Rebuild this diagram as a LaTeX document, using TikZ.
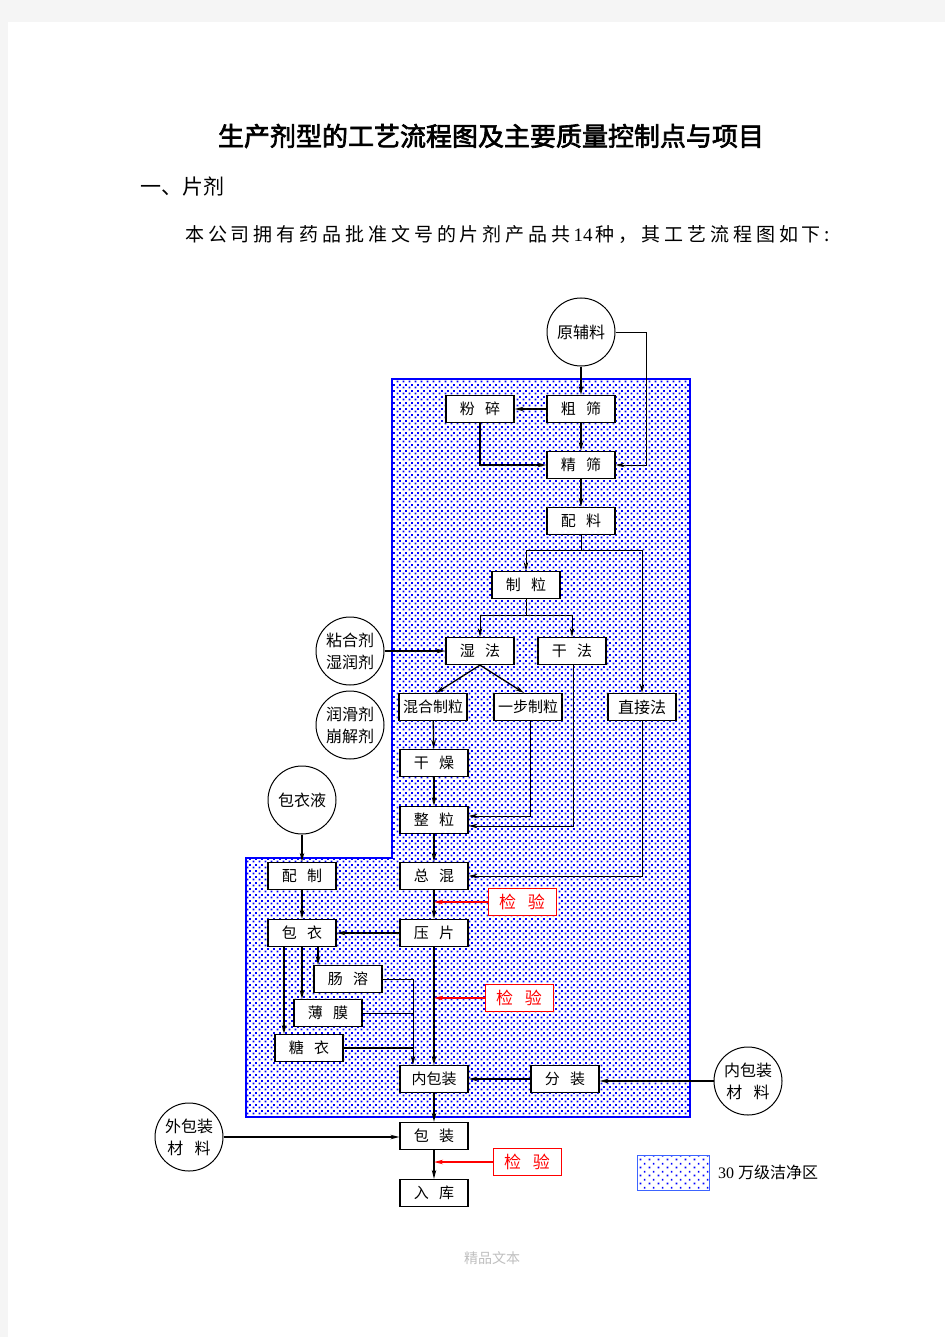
\documentclass[tikz,border=0pt]{standalone}
\usepackage{fontspec}
\setmainfont{Liberation Serif}
\newfontfamily\cjk{Noto Sans CJK SC}
\newfontfamily\cjkb[FakeBold=2.5]{Noto Sans CJK SC}
\newfontfamily\cjksp[LetterSpace=20.5]{Noto Sans CJK SC}
\usetikzlibrary{arrows.meta,patterns.meta,calc}
\newcommand\gp{\hspace{0.7em}}
\tikzdeclarepattern{name=bluedots, type=uncolored,
  bounding box={(0pt,0pt) and (6pt,6pt)}, tile size={(6pt,6pt)},
  code={\fill (0.6pt,0.6pt) rectangle (2.8pt,2.8pt);
        \fill (3.6pt,3.6pt) rectangle (5.8pt,5.8pt);}}
\tikzdeclarepattern{name=sparsedots, type=uncolored,
  bounding box={(0pt,0pt) and (9pt,8pt)}, tile size={(9pt,8pt)},
  code={\fill (0.8pt,0.8pt) rectangle (2.6pt,2.6pt);
        \fill (5.3pt,4.8pt) rectangle (7.1pt,6.6pt);}}
\tikzset{
  box/.style={draw, line width=1.2pt, fill=white, minimum width=68pt, minimum height=27pt,
    inner sep=0pt, font=\cjk\fontsize{15}{15}\selectfont},
  rbox/.style={box, draw=red, text=red, line width=0.9pt, font=\cjk\fontsize{17}{17}\selectfont},
  circ/.style={draw, circle, line width=1pt, fill=white, minimum size=68pt, inner sep=0pt,
    align=center, font=\cjk\fontsize{16}{22}\selectfont},
  arr/.style={-{Stealth[length=9pt,width=4.5pt]}, line width=1.3pt},
  tarr/.style={-{Stealth[length=9pt,width=4.5pt]}, line width=0.8pt},
  ln/.style={line width=0.8pt},
  redarr/.style={-{Stealth[length=9pt,width=4.5pt]}, line width=1.3pt, red},
}
\begin{document}
\begin{tikzpicture}[x=1pt,y=-1pt]
\useasboundingbox (0,0) rectangle (945,1337);
\fill[black!4] (0,0) rectangle (945,1337);
\fill[white] (8,22) rectangle (945,1337);

% texts
\node[font=\cjkb\fontsize{26}{26}\selectfont] (title) at (491,136) {生产剂型的工艺流程图及主要质量控制点与项目};
\node[anchor=west, inner sep=0pt, font=\cjk\fontsize{21}{21}\selectfont] (sec) at (140,187) {一、片剂};
\node[anchor=west, inner sep=0pt, font=\fontsize{19}{19}\selectfont] (intro) at (185,234)
  {{\cjksp 本公司拥有药品批准文号的片剂产品共}\,14\,{\cjksp 种，其工艺流程图如下:}};
\node[text=black!25, font=\cjk\fontsize{14}{14}\selectfont] (foot) at (492,1258) {精品文本};

% clean area
\fill[white] (392,379) -- (690,379) -- (690,1117) -- (246,1117) -- (246,858) -- (392,858) -- cycle;
\fill[pattern=bluedots, pattern color=blue] (392,379) -- (690,379) -- (690,1117) -- (246,1117) -- (246,858) -- (392,858) -- cycle;
\draw[blue, line width=1.3pt] (392,379) -- (690,379) -- (690,1117) -- (246,1117) -- (246,858) -- (392,858) -- cycle;

% legend
\fill[pattern=sparsedots, pattern color=blue] (637,1155) rectangle (709,1190);
\draw[draw={rgb,255:red,60;green,100;blue,255}, line width=1pt] (637,1155) rectangle (709,1190);
\node[anchor=west, inner sep=0pt, font=\fontsize{16}{16}\selectfont] (leg) at (718,1172) {30 {\cjk 万级洁净区}};

% nodes
\node[circ] (yfl) at (581,332) {原辅料};
\node[box] (fs) at (480,409) {粉\gp 碎};
\node[box] (cs) at (581,409) {粗\gp 筛};
\node[box] (js) at (581,465) {精\gp 筛};
\node[box] (pl) at (581,521) {配\gp 料};
\node[box] (zl) at (526,585) {制\gp 粒};
\node[box] (sf) at (480,651) {湿\gp 法};
\node[box] (gf) at (572,651) {干\gp 法};
\node[circ] (nh) at (350,651) {粘合剂\\湿润剂};
\node[circ] (rh) at (350,725) {润滑剂\\崩解剂};
\node[box] (hh) at (433,707) {混合制粒};
\node[box] (ybz) at (528,707) {一步制粒};
\node[box, font=\cjk\fontsize{16}{16}\selectfont] (zjf) at (642,707) {直接法};
\node[box] (gz) at (434,763) {干\gp 燥};
\node[box] (zhl) at (434,820) {整\gp 粒};
\node[box] (zh) at (434,876) {总\gp 混};
\node[rbox] (jy1) at (522,902) {检\gp 验};
\node[box] (yp) at (434,933) {压\gp 片};
\node[circ] (byy) at (302,800) {包衣液};
\node[box] (pz) at (302,876) {配\gp 制};
\node[box] (by) at (302,933) {包\gp 衣};
\node[box] (cr) at (348,979) {肠\gp 溶};
\node[box] (bm) at (328,1013) {薄\gp 膜};
\node[box] (ty) at (309,1048) {糖\gp 衣};
\node[rbox] (jy2) at (519,998) {检\gp 验};
\node[box] (nbz) at (434,1079) {内包装};
\node[box] (fz) at (565,1079) {分\gp 装};
\node[circ] (nbc) at (748,1081) {内包装\\材\gp 料};
\node[box] (bz) at (434,1136) {包\gp 装};
\node[circ] (wbc) at (189,1137) {外包装\\材\gp 料};
\node[rbox] (jy3) at (527,1162) {检\gp 验};
\node[box] (rk) at (434,1193) {入\gp 库};

% connectors
\draw[arr] (yfl.south) -- (cs.north);
\draw[tarr] (yfl.east) -- ++(31,0) |- (js.east);
\draw[arr] (cs.west) -- (fs.east);
\draw[arr] (cs.south) -- (js.north);
\draw[arr] (fs.south) |- (js.west);
\draw[arr] (js) -- (pl);
\draw[ln] (pl.south) -- ++(0,15) coordinate (b1);
\draw[tarr] (b1) -| (zl.north);
\draw[tarr] (b1) -| (zjf.north);
\draw[ln] (zl.south) -- ++(0,16) coordinate (b2);
\draw[tarr] (b2) -| (sf.north);
\draw[tarr] (b2) -| (gf.north);
\draw[arr] (nh.east) -- (sf.west);
\draw[arr] (sf.south) -- ([xshift=3pt]hh.north);
\draw[arr] (sf.south) -- ([xshift=-4pt]ybz.north);
\draw[arr] (hh) -- (gz);
\draw[arr] (gz) -- (zhl);
\draw[arr] (zhl) -- (zh);
\draw[arr] (zh) -- (yp);
\draw[tarr] ([xshift=2pt]ybz.south) |- ([yshift=4pt]zhl.east);
\draw[tarr] ([xshift=1pt]gf.south) |- ([yshift=-6pt]zhl.east);
\draw[tarr] (zjf.south) |- (zh.east);
\draw[redarr] (jy1.west) -- (jy1.west -| zh.south);
\draw[arr] (yp.west) -- (by.east);
\draw[arr] (byy) -- (pz);
\draw[arr] (pz) -- (by);
\coordinate (bys1) at ([xshift=16pt]by.south);
\coordinate (bys3) at ([xshift=-18pt]by.south);
\draw[arr] (bys1) -- (bys1 |- cr.north);
\draw[arr] (by.south) -- (by.south |- bm.north);
\draw[arr] (bys3) -- (bys3 |- ty.north);
\coordinate (nbt) at ([xshift=-21pt]nbz.north);
\draw[tarr] (cr.east) -| (nbt);
\draw[ln] (bm.east) -- (bm.east -| nbt);
\draw[line width=1.3pt] (ty.east) -- (ty.east -| nbt);
\draw[arr] (yp) -- (nbz);
\draw[redarr] (jy2.west) -- (jy2.west -| yp.south);
\draw[arr] (nbc.west) -- (nbc.west -| fz.east);
\draw[arr] (fz.west) -- (nbz.east);
\draw[arr] (nbz) -- (bz);
\draw[arr] (bz) -- (rk);
\draw[arr] (wbc.east) -- (wbc.east -| bz.west);
\draw[redarr] (jy3.west) -- (jy3.west -| bz.south);
\end{tikzpicture}
\end{document}
